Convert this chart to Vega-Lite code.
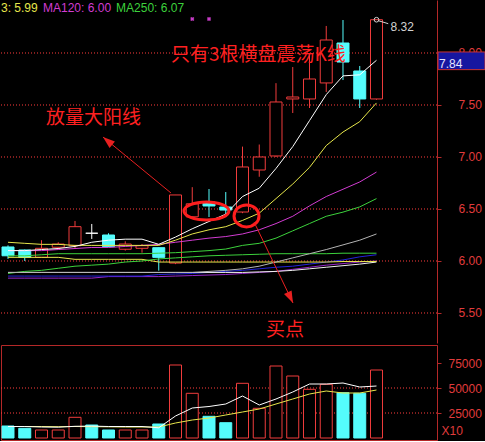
{
  "$schema": "https://vega.github.io/schema/vega-lite/v6.json",
  "background": "#000000",
  "padding": 0,
  "spacing": 1,
  "config": {
    "view": {"stroke": null},
    "text": {"font": "Liberation Sans"}
  },
  "datasets": {
    "priceLevels": [{"level": 5.5}, {"level": 6.0}, {"level": 6.5}, {"level": 7.0}, {"level": 7.5}, {"level": 8.0}],
    "volumeLevels": [{"level": 25000}, {"level": 50000}],
    "bars": [
      {"i": 1, "open": 6.135, "high": 6.15, "low": 6.02, "close": 6.05, "vol": 12000, "dir": "down", "ma5": 6.10, "ma10": 6.18, "ma20": 6.10, "ma30": 6.05, "ma60": 5.89, "ma250": 5.88, "may": 6.035, "mab": 5.855, "ma120": 5.835, "maw": 5.89, "vma5": 11500, "vma10": 11500},
      {"i": 2, "open": 6.106, "high": 6.11, "low": 6.0, "close": 6.035, "vol": 9700, "dir": "down", "ma5": 6.10, "ma10": 6.17, "ma20": 6.10, "ma30": 6.05, "ma60": 5.89, "ma250": 5.90, "may": 6.035, "mab": 5.855, "ma120": 5.835, "maw": 5.89, "vma5": 11500, "vma10": 11500},
      {"i": 3, "open": 6.035, "high": 6.20, "low": 6.035, "close": 6.122, "vol": 8000, "dir": "up", "ma5": 6.11, "ma10": 6.16, "ma20": 6.10, "ma30": 6.06, "ma60": 5.89, "ma250": 5.91, "may": 6.035, "mab": 5.855, "ma120": 5.835, "maw": 5.89, "vma5": 11000, "vma10": 11500},
      {"i": 4, "open": 6.132, "high": 6.18, "low": 6.11, "close": 6.163, "vol": 8000, "dir": "up", "ma5": 6.12, "ma10": 6.16, "ma20": 6.11, "ma30": 6.07, "ma60": 5.89, "ma250": 5.93, "may": 6.035, "mab": 5.855, "ma120": 5.835, "maw": 5.89, "vma5": 10800, "vma10": 11300},
      {"i": 5, "open": 6.147, "high": 6.385, "low": 6.122, "close": 6.33, "vol": 20700, "dir": "up", "ma5": 6.14, "ma10": 6.15, "ma20": 6.12, "ma30": 6.07, "ma60": 5.89, "ma250": 5.95, "may": 6.016, "mab": 5.855, "ma120": 5.835, "maw": 5.89, "vma5": 11700, "vma10": 11500},
      {"i": 6, "open": 6.267, "high": 6.356, "low": 6.212, "close": 6.267, "vol": 13000, "dir": "flat", "ma5": 6.18, "ma10": 6.15, "ma20": 6.13, "ma30": 6.07, "ma60": 5.89, "ma250": 5.96, "may": 6.016, "mab": 5.855, "ma120": 5.835, "maw": 5.89, "vma5": 11900, "vma10": 11300},
      {"i": 7, "open": 6.25, "high": 6.267, "low": 6.138, "close": 6.138, "vol": 8000, "dir": "down", "ma5": 6.20, "ma10": 6.15, "ma20": 6.13, "ma30": 6.07, "ma60": 5.89, "ma250": 5.97, "may": 6.016, "mab": 5.855, "ma120": 5.85, "maw": 5.89, "vma5": 11500, "vma10": 11200},
      {"i": 8, "open": 6.113, "high": 6.19, "low": 6.10, "close": 6.163, "vol": 8000, "dir": "up", "ma5": 6.21, "ma10": 6.15, "ma20": 6.14, "ma30": 6.07, "ma60": 5.89, "ma250": 5.99, "may": 6.016, "mab": 5.855, "ma120": 5.85, "maw": 5.89, "vma5": 11500, "vma10": 11000},
      {"i": 9, "open": 6.122, "high": 6.163, "low": 6.08, "close": 6.147, "vol": 8000, "dir": "up", "ma5": 6.21, "ma10": 6.15, "ma20": 6.15, "ma30": 6.07, "ma60": 5.89, "ma250": 6.00, "may": 6.016, "mab": 5.855, "ma120": 5.85, "maw": 5.89, "vma5": 11500, "vma10": 11000},
      {"i": 10, "open": 6.128, "high": 6.13, "low": 5.907, "close": 6.035, "vol": 14000, "dir": "down", "ma5": 6.16, "ma10": 6.15, "ma20": 6.16, "ma30": 6.075, "ma60": 5.89, "ma250": 6.02, "may": 5.99, "mab": 5.87, "ma120": 5.85, "maw": 5.89, "vma5": 10200, "vma10": 11000},
      {"i": 11, "open": 5.98, "high": 6.635, "low": 5.97, "close": 6.635, "vol": 73000, "dir": "up", "ma5": 6.23, "ma10": 6.20, "ma20": 6.18, "ma30": 6.08, "ma60": 5.89, "ma250": 6.03, "may": 5.99, "mab": 5.875, "ma120": 5.855, "maw": 5.89, "vma5": 22000, "vma10": 15000},
      {"i": 12, "open": 6.425, "high": 6.71, "low": 6.42, "close": 6.55, "vol": 44700, "dir": "up", "ma5": 6.31, "ma10": 6.26, "ma20": 6.20, "ma30": 6.09, "ma60": 5.89, "ma250": 6.04, "may": 5.99, "mab": 5.88, "ma120": 5.86, "maw": 5.89, "vma5": 30000, "vma10": 18000},
      {"i": 13, "open": 6.567, "high": 6.692, "low": 6.423, "close": 6.529, "vol": 21700, "dir": "down", "ma5": 6.38, "ma10": 6.30, "ma20": 6.22, "ma30": 6.10, "ma60": 5.90, "ma250": 6.05, "may": 5.99, "mab": 5.89, "ma120": 5.865, "maw": 5.89, "vma5": 31500, "vma10": 20000},
      {"i": 14, "open": 6.519, "high": 6.663, "low": 6.423, "close": 6.49, "vol": 15300, "dir": "down", "ma5": 6.45, "ma10": 6.33, "ma20": 6.235, "ma30": 6.115, "ma60": 5.91, "ma250": 6.055, "may": 5.99, "mab": 5.90, "ma120": 5.87, "maw": 5.89, "vma5": 34000, "vma10": 23000},
      {"i": 15, "open": 6.471, "high": 7.10, "low": 6.46, "close": 6.904, "vol": 54700, "dir": "up", "ma5": 6.62, "ma10": 6.39, "ma20": 6.26, "ma30": 6.15, "ma60": 5.925, "ma250": 6.06, "may": 5.99, "mab": 5.91, "ma120": 5.88, "maw": 5.89, "vma5": 42000, "vma10": 26000},
      {"i": 16, "open": 6.875, "high": 7.12, "low": 6.81, "close": 7.0, "vol": 29700, "dir": "up", "ma5": 6.70, "ma10": 6.46, "ma20": 6.30, "ma30": 6.17, "ma60": 5.95, "ma250": 6.065, "may": 5.99, "mab": 5.925, "ma120": 5.89, "maw": 5.895, "vma5": 33000, "vma10": 29000},
      {"i": 17, "open": 7.01, "high": 7.71, "low": 7.0, "close": 7.529, "vol": 72000, "dir": "up", "ma5": 6.89, "ma10": 6.60, "ma20": 6.36, "ma30": 6.22, "ma60": 5.99, "ma250": 6.07, "may": 5.99, "mab": 5.94, "ma120": 5.90, "maw": 5.90, "vma5": 39000, "vma10": 34000},
      {"i": 18, "open": 7.558, "high": 7.865, "low": 7.423, "close": 7.577, "vol": 62000, "dir": "up", "ma5": 7.10, "ma10": 6.74, "ma20": 6.43, "ma30": 6.29, "ma60": 6.03, "ma250": 6.07, "may": 5.99, "mab": 5.95, "ma120": 5.92, "maw": 5.91, "vma5": 46000, "vma10": 39000},
      {"i": 19, "open": 7.558, "high": 8.0, "low": 7.471, "close": 7.75, "vol": 48700, "dir": "up", "ma5": 7.35, "ma10": 6.90, "ma20": 6.53, "ma30": 6.36, "ma60": 6.07, "ma250": 6.07, "may": 5.99, "mab": 5.97, "ma120": 5.94, "maw": 5.925, "vma5": 54000, "vma10": 44000},
      {"i": 20, "open": 7.712, "high": 8.26, "low": 7.625, "close": 8.125, "vol": 53700, "dir": "up", "ma5": 7.60, "ma10": 7.11, "ma20": 6.62, "ma30": 6.43, "ma60": 6.11, "ma250": 6.07, "may": 5.99, "mab": 5.99, "ma120": 5.96, "maw": 5.94, "vma5": 54000, "vma10": 47000},
      {"i": 21, "open": 8.096, "high": 8.317, "low": 7.74, "close": 7.913, "vol": 45300, "dir": "down", "ma5": 7.78, "ma10": 7.24, "ma20": 6.69, "ma30": 6.47, "ma60": 6.155, "ma250": 6.075, "may": 5.995, "mab": 6.01, "ma120": 5.975, "maw": 5.955, "vma5": 55000, "vma10": 45000},
      {"i": 22, "open": 7.827, "high": 7.875, "low": 7.471, "close": 7.558, "vol": 44700, "dir": "down", "ma5": 7.79, "ma10": 7.34, "ma20": 6.76, "ma30": 6.52, "ma60": 6.20, "ma250": 6.075, "may": 5.995, "mab": 6.04, "ma120": 5.99, "maw": 5.97, "vma5": 51000, "vma10": 45000},
      {"i": 23, "open": 7.558, "high": 8.32, "low": 7.55, "close": 8.32, "vol": 68000, "dir": "up", "ma5": 7.93, "ma10": 7.52, "ma20": 6.855, "ma30": 6.60, "ma60": 6.26, "ma250": 6.075, "may": 5.995, "mab": 6.06, "ma120": 6.00, "maw": 5.99, "vma5": 52000, "vma10": 48000}
    ]
  },
  "resolve": {"scale": {"fill": "independent", "stroke": "independent", "color": "independent", "x": "independent", "y": "independent"}},
  "vconcat": [
    {
      "width": 436,
      "height": 343,
      "layer": [
        {
          "data": {"name": "priceLevels"},
          "mark": {"type": "rule", "stroke": "#ff3c3c", "strokeWidth": 1, "strokeDash": [1, 2], "opacity": 1},
          "encoding": {
            "y": {
              "field": "level", "type": "quantitative",
              "scale": {"domain": [5.2115, 8.5096], "zero": false, "nice": false},
              "axis": {
                "orient": "right", "title": null, "grid": false,
                "values": [5.5, 5.75, 6.0, 6.25, 6.5, 6.75, 7.0, 7.25, 7.5, 7.75, 8.0],
                "format": ".2f",
                "labelOverlap": false, "labelBound": false, "labelFlush": false,
                "labelPadding": 17,
                "labelFont": "Liberation Sans", "labelFontSize": 12, "labelColor": "#e03c3c",
                "tickSize": 4, "tickColor": "#b42828", "domainColor": "#b42828"
              }
            }
          }
        },
        {
          "data": {"name": "bars"},
          "mark": {"type": "rule", "strokeWidth": 1},
          "encoding": {
            "x": {"field": "i", "type": "quantitative", "scale": {"domain": [0.582, 26.612], "nice": false, "zero": false, "padding": 0}, "axis": null},
            "y": {"field": "low", "type": "quantitative"},
            "y2": {"field": "high"},
            "stroke": {"field": "dir", "type": "nominal", "scale": {"domain": ["up", "down", "flat"], "range": ["#f03c3c", "#54fcfc", "#ffffff"]}, "legend": null}
          }
        },
        {
          "data": {"name": "bars"},
          "mark": {"type": "bar", "size": 12, "strokeWidth": 1},
          "encoding": {
            "x": {"field": "i", "type": "quantitative"},
            "y": {"field": "open", "type": "quantitative"},
            "y2": {"field": "close"},
            "stroke": {"field": "dir", "type": "nominal", "legend": null},
            "fill": {"field": "dir", "type": "nominal", "scale": {"domain": ["up", "down", "flat"], "range": ["#000000", "#54fcfc", "#ffffff"]}, "legend": null}
          }
        },
        {
          "data": {"name": "bars"},
          "transform": [{"fold": ["ma120", "mab", "maw", "may", "ma250", "ma60", "ma30", "ma20", "ma10", "ma5"], "as": ["ma", "v"]}],
          "mark": {"type": "line", "strokeWidth": 1},
          "encoding": {
            "x": {"field": "i", "type": "quantitative"},
            "y": {"field": "v", "type": "quantitative"},
            "color": {
              "field": "ma", "type": "nominal", "legend": null,
              "scale": {
                "domain": ["ma120", "mab", "maw", "may", "ma250", "ma60", "ma30", "ma20", "ma10", "ma5"],
                "range": ["#9628c8", "#2323d8", "#f0f0f0", "#e6e64b", "#3cd23c", "#b4b4b4", "#3cd23c", "#d23cd2", "#e6e64b", "#ffffff"]
              }
            }
          }
        },
        {
          "data": {"name": "bars"},
          "transform": [{"filter": "datum.i === 12 || datum.i === 13"}],
          "mark": {"type": "point", "shape": "cross", "angle": 45, "size": 18, "filled": true, "fill": "#c83cc8", "opacity": 1},
          "encoding": {"x": {"field": "i", "type": "quantitative"}, "y": {"datum": 8.327}}
        },
        {
          "data": {"name": "bars"},
          "transform": [{"filter": "datum.i === 23"}],
          "mark": {"type": "point", "shape": "circle", "size": 22, "filled": false, "stroke": "#d2d2d2", "strokeWidth": 1, "opacity": 1},
          "encoding": {"x": {"field": "i", "type": "quantitative"}, "y": {"field": "high", "type": "quantitative"}}
        },
        {
          "data": {"name": "bars"},
          "transform": [{"filter": "datum.i === 23"}],
          "mark": {"type": "text", "align": "left", "baseline": "middle", "dx": 14, "dy": 7, "fontSize": 12, "fill": "#d2d2d2"},
          "encoding": {"x": {"field": "i", "type": "quantitative"}, "y": {"field": "high", "type": "quantitative"}, "text": {"field": "high", "format": ".2f"}}
        },
        {
          "data": {"values": [{}]},
          "mark": {"type": "rule", "stroke": "#d2d2d2", "strokeWidth": 1},
          "encoding": {"x": {"datum": 23.12}, "y": {"datum": 8.31}, "x2": {"datum": 23.7}, "y2": {"datum": 8.282}}
        },
        {
          "data": {"values": [{}]},
          "mark": {"type": "point", "shape": "M -1 0 A 1 0.4 0 1 1 1 0 A 1 0.4 0 1 1 -1 0 Z", "size": 2025, "filled": false, "stroke": "#ff1e1e", "strokeWidth": 3, "opacity": 1},
          "encoding": {"x": {"datum": 12.85}, "y": {"datum": 6.481}}
        },
        {
          "data": {"values": [{}]},
          "mark": {"type": "point", "shape": "M -1 0 A 1 0.88 0 1 1 1 0 A 1 0.88 0 1 1 -1 0 Z", "size": 625, "filled": false, "stroke": "#ff1e1e", "strokeWidth": 3, "opacity": 1},
          "encoding": {"x": {"datum": 15.24}, "y": {"datum": 6.433}}
        },
        {
          "data": {"values": [{}]},
          "mark": {"type": "rule", "stroke": "#e82020", "strokeWidth": 1},
          "encoding": {"x": {"datum": 6.67}, "y": {"datum": 7.192}, "x2": {"datum": 10.73}, "y2": {"datum": 6.654}}
        },
        {
          "data": {"values": [{}]},
          "mark": {"type": "point", "shape": "M 0 0 L 0.35 1 L -0.35 1 Z", "size": 576, "filled": true, "fill": "#e82020", "strokeWidth": 0, "angle": 309.5, "opacity": 1},
          "encoding": {"x": {"datum": 6.67}, "y": {"datum": 7.192}}
        },
        {
          "data": {"values": [{}]},
          "mark": {"type": "rule", "stroke": "#e82020", "strokeWidth": 1},
          "encoding": {"x": {"datum": 15.69}, "y": {"datum": 6.375}, "x2": {"datum": 18.015}, "y2": {"datum": 5.596}}
        },
        {
          "data": {"values": [{}]},
          "mark": {"type": "point", "shape": "M 0 0 L 0.35 1 L -0.35 1 Z", "size": 576, "filled": true, "fill": "#e82020", "strokeWidth": 0, "angle": 154.3, "opacity": 1},
          "encoding": {"x": {"datum": 18.015}, "y": {"datum": 5.596}}
        },
        {
          "data": {"values": [{"note": "只有3根横盘震荡K线"}]},
          "mark": {"type": "text", "font": "Noto Sans CJK SC", "fontSize": 19, "align": "left", "baseline": "middle", "fill": "#ff2020"},
          "encoding": {"x": {"datum": 10.73}, "y": {"datum": 7.98}, "text": {"field": "note"}}
        },
        {
          "data": {"values": [{"note": "放量大阳线"}]},
          "mark": {"type": "text", "font": "Noto Sans CJK SC", "fontSize": 19, "align": "left", "baseline": "middle", "fill": "#ff2020"},
          "encoding": {"x": {"datum": 3.269}, "y": {"datum": 7.375}, "text": {"field": "note"}}
        },
        {
          "data": {"values": [{"note": "买点"}]},
          "mark": {"type": "text", "font": "Noto Sans CJK SC", "fontSize": 19, "align": "left", "baseline": "middle", "fill": "#ff2020"},
          "encoding": {"x": {"datum": 16.4}, "y": {"datum": 5.337}, "text": {"field": "note"}}
        },
        {
          "data": {"values": [{"note": "3: 5.99"}]},
          "mark": {"type": "text", "fontSize": 12, "align": "left", "baseline": "middle", "fill": "#e6e64b"},
          "encoding": {"x": {"datum": 0.582}, "y": {"datum": 8.433}, "text": {"field": "note"}}
        },
        {
          "data": {"values": [{"note": "MA120: 6.00"}]},
          "mark": {"type": "text", "fontSize": 12, "align": "left", "baseline": "middle", "fill": "#d23cd2"},
          "encoding": {"x": {"datum": 3.09}, "y": {"datum": 8.433}, "text": {"field": "note"}}
        },
        {
          "data": {"values": [{"note": "MA250: 6.07"}]},
          "mark": {"type": "text", "fontSize": 12, "align": "left", "baseline": "middle", "fill": "#3cd23c"},
          "encoding": {"x": {"datum": 7.45}, "y": {"datum": 8.433}, "text": {"field": "note"}}
        },
        {
          "data": {"values": [{}]},
          "mark": {"type": "rect", "fill": "#1616a0", "stroke": "#c83232", "strokeWidth": 1, "xOffset": 1, "x2Offset": 48},
          "encoding": {
            "x": {"datum": 26.612},
            "x2": {"datum": 26.612},
            "y": {"datum": 7.84},
            "y2": {"datum": 8.01}
          }
        },
        {
          "data": {"values": [{"note": "7.84"}]},
          "mark": {"type": "text", "fontSize": 12, "align": "left", "baseline": "alphabetic", "dx": 2, "dy": -2, "fill": "#e6e6ff"},
          "encoding": {"x": {"datum": 26.612}, "y": {"datum": 7.84}, "text": {"field": "note"}}
        }
      ]
    },
    {
      "width": 436,
      "height": 95,
      "view": {"stroke": "#b42828"},
      "layer": [
        {
          "data": {"name": "volumeLevels"},
          "mark": {"type": "rule", "stroke": "#ff3c3c", "strokeWidth": 1, "strokeDash": [1, 2], "opacity": 1},
          "encoding": {
            "y": {
              "field": "level", "type": "quantitative",
              "scale": {"domain": [-2000, 93000], "zero": false, "nice": false},
              "axis": {
                "orient": "right", "grid": false,
                "values": [25000, 50000, 75000],
                "format": "d",
                "labelOverlap": false, "labelBound": false, "labelFlush": false,
                "labelPadding": 7,
                "labelFont": "Liberation Sans", "labelFontSize": 12, "labelColor": "#e03c3c",
                "tickSize": 4, "tickColor": "#b42828", "domainColor": "#b42828",
                "title": "X10", "titleAngle": 0, "titleAlign": "left", "titleBaseline": "alphabetic",
                "titleX": 4, "titleY": 89, "titleFont": "Liberation Sans", "titleFontSize": 12,
                "titleFontWeight": "normal", "titleColor": "#e03c3c"
              }
            }
          }
        },
        {
          "data": {"name": "bars"},
          "mark": {"type": "bar", "size": 12, "strokeWidth": 1},
          "encoding": {
            "x": {"field": "i", "type": "quantitative", "scale": {"domain": [0.582, 26.612], "nice": false, "zero": false, "padding": 0}, "axis": null},
            "y": {"field": "vol", "type": "quantitative"},
            "stroke": {"field": "dir", "type": "nominal", "scale": {"domain": ["up", "down", "flat"], "range": ["#f03c3c", "#54fcfc", "#54fcfc"]}, "legend": null},
            "fill": {"field": "dir", "type": "nominal", "scale": {"domain": ["up", "down", "flat"], "range": ["#000000", "#54fcfc", "#54fcfc"]}, "legend": null}
          }
        },
        {
          "data": {"name": "bars"},
          "transform": [{"fold": ["vma10", "vma5"], "as": ["ma", "v"]}],
          "mark": {"type": "line", "strokeWidth": 1},
          "encoding": {
            "x": {"field": "i", "type": "quantitative"},
            "y": {"field": "v", "type": "quantitative"},
            "color": {"field": "ma", "type": "nominal", "legend": null, "scale": {"domain": ["vma10", "vma5"], "range": ["#e6e64b", "#ffffff"]}}
          }
        }
      ]
    }
  ]
}
